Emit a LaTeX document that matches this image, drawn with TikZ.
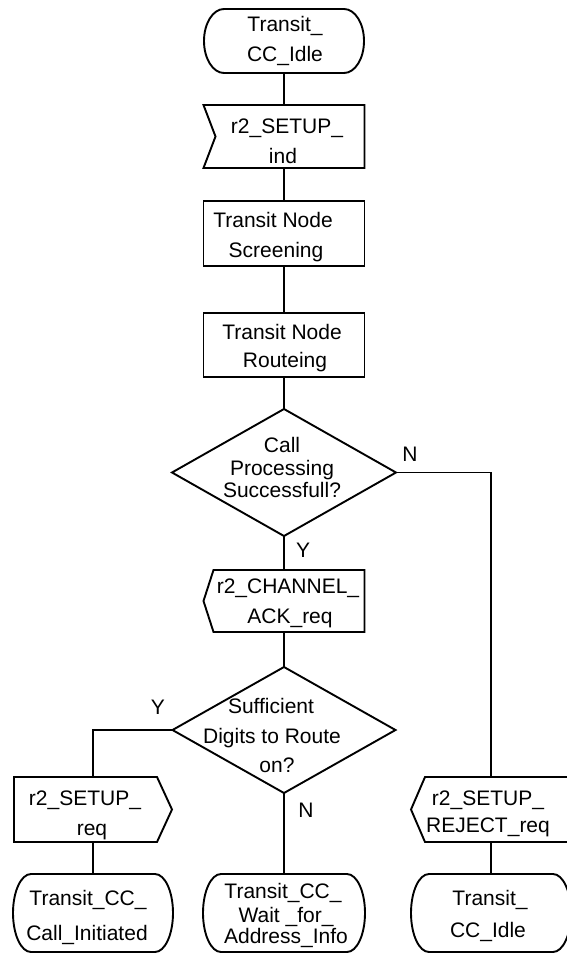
\documentclass[tikz,border=0pt]{standalone}
\usepackage{fontspec}
\setmainfont{Liberation Sans}
\usetikzlibrary{calc}
\tikzset{
  frame/.style 2 args={draw=none, inner sep=0pt, outer sep=0pt, minimum width=#1, minimum height=#2},
  ln/.style={line width=1.9pt, line join=miter, black},
  txt/.style={anchor=base, inner sep=0pt, outer sep=0pt, font=\fontsize{21}{25}\selectfont},
}
\newcommand\drawstatebox[3]{%
  \draw[ln] ([xshift=#2]#1.north west) -- ([xshift=-#2]#1.north east)
    arc[start angle=90, end angle=-90, x radius=#2, y radius=#3]
    -- ([xshift=#2]#1.south west)
    arc[start angle=270, end angle=90, x radius=#2, y radius=#3] -- cycle;}
\begin{document}
\begin{tikzpicture}[x=1pt, y=1pt]
\useasboundingbox (0,0) rectangle (566,-955);
% frames
\node[frame={160pt}{64pt}] (st1) at (284,-41) {};
\node[frame={161pt}{63pt}] (in1) at (284,-136.5) {};
\node[frame={161pt}{65pt}] (box1) at (284,-233.5) {};
\node[frame={161pt}{64pt}] (box2) at (284,-345) {};
\node[frame={224pt}{127pt}] (d1) at (284,-472.5) {};
\node[frame={161pt}{62pt}] (ack) at (284,-601) {};
\node[frame={223pt}{126pt}] (d2) at (284,-730) {};
\node[frame={158pt}{65pt}] (req) at (93,-809.5) {};
\node[frame={160pt}{65pt}] (rej) at (491,-809.5) {};
\node[frame={160pt}{78pt}] (s2) at (93,-913) {};
\node[frame={162pt}{78pt}] (s3) at (284,-913) {};
\node[frame={160pt}{78pt}] (s4) at (491,-913) {};
% outlines
\drawstatebox{st1}{20pt}{32pt}
\draw[ln] (in1.north west) -- (in1.north east) -- (in1.south east) -- (in1.south west) -- ([xshift=12pt]in1.west) -- cycle;
\draw[ln] (box1.north west) rectangle (box1.south east);
\draw[ln] (box2.north west) rectangle (box2.south east);
\draw[ln] (d1.north) -- (d1.east) -- (d1.south) -- (d1.west) -- cycle;
\draw[ln] ([xshift=10pt]ack.north west) -- (ack.north east) -- (ack.south east) -- ([xshift=10pt]ack.south west) -- (ack.west) -- cycle;
\draw[ln] (d2.north) -- (d2.east) -- (d2.south) -- (d2.west) -- cycle;
\draw[ln] (req.north west) -- ([xshift=-15pt]req.north east) -- (req.east) -- ([xshift=-15pt]req.south east) -- (req.south west) -- cycle;
\draw[ln] ([xshift=14pt]rej.north west) -- (rej.north east) -- (rej.south east) -- ([xshift=14pt]rej.south west) -- (rej.west) -- cycle;
\drawstatebox{s2}{18pt}{39pt}
\drawstatebox{s3}{18pt}{39pt}
\drawstatebox{s4}{18pt}{39pt}
% connectors
\draw[ln] (st1.south) -- (in1.north);
\draw[ln] (in1.south) -- (box1.north);
\draw[ln] (box1.south) -- (box2.north);
\draw[ln] (box2.south) -- (d1.north);
\draw[ln] (d1.south) -- (ack.north);
\draw[ln] (d1.east) -| (rej.north);
\draw[ln] (ack.south) -- (d2.north);
\draw[ln] (d2.west) -| (req.north);
\draw[ln] (d2.south) -- (s3.north);
\draw[ln] (req.south) -- (s2.north);
\draw[ln] (rej.south) -- (s4.north);
% texts
\node[txt] (t1a) at (285,-32) {Transit\_};
\node[txt] (t1b) at (285,-62) {CC\_Idle};
\node[txt] (t2a) at (287,-133) {r2\_SETUP\_};
\node[txt] (t2b) at (283,-163) {ind};
\node[txt] (t3a) at (273,-227) {Transit Node};
\node[txt] (t3b) at (276,-257) {Screening};
\node[txt] (t4a) at (282,-339) {Transit Node};
\node[txt] (t4b) at (285,-367) {Routeing};
\node[txt] (t5a) at (282,-452) {Call};
\node[txt] (t5b) at (282,-475) {Processing};
\node[txt] (t5c) at (282,-497) {Successfull?};
\node[txt] (y1) at (303,-557) {Y};
\node[txt] (n1) at (410,-461) {N};
\node[txt] (t6a) at (288,-593) {r2\_CHANNEL\_};
\node[txt] (t6b) at (290,-623) {ACK\_req};
\node[txt] (t7a) at (271,-713) {Sufficient};
\node[txt] (t7b) at (272,-743) {Digits to Route};
\node[txt] (t7c) at (277,-772) {on?};
\node[txt] (y2) at (158,-714) {Y};
\node[txt] (n2) at (306,-817) {N};
\node[txt] (t8a) at (85,-805) {r2\_SETUP\_};
\node[txt] (t8b) at (92,-835) {req};
\node[txt] (t9a) at (488,-805) {r2\_SETUP\_};
\node[txt] (t9b) at (488,-832) {REJECT\_req};
\node[txt] (t10a) at (88,-905) {Transit\_CC\_};
\node[txt] (t10b) at (87,-940) {Call\_Initiated};
\node[txt] (t11a) at (283,-898) {Transit\_CC\_};
\node[txt] (t11b) at (286,-922) {Wait \_for\_};
\node[txt] (t11c) at (286,-943) {Address\_Info};
\node[txt] (t12a) at (490,-905) {Transit\_};
\node[txt] (t12b) at (488,-937) {CC\_Idle};
\end{tikzpicture}
\end{document}
